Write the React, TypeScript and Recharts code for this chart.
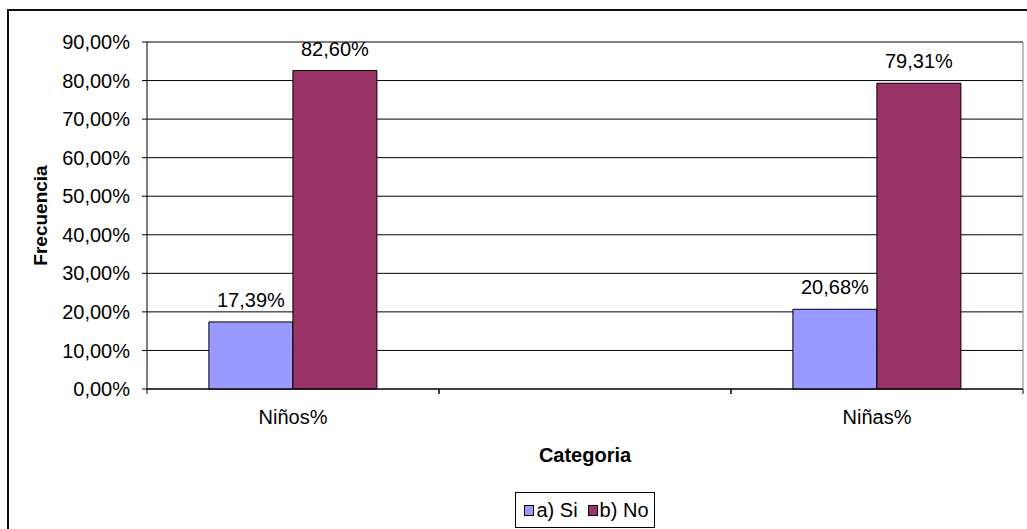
import React from 'react';
import { BarChart, Bar, XAxis, YAxis, CartesianGrid, Legend, LabelList } from 'recharts';

// Survey answers by group (percent)
const categories = ['Niños%', '', 'Niñas%'];
const siValues: (number | null)[] = [17.39, null, 20.68];
const noValues: (number | null)[] = [82.6, null, 79.31];
const yTicks = [0, 10, 20, 30, 40, 50, 60, 70, 80, 90];

const seriesNames = { si: 'a) Si', no: 'b) No' };
const colors = { si: '#9999FF', no: '#993366' };

const data = categories.map((cat, i) => ({ cat, si: siValues[i], no: noValues[i] }));

const FONT = '"Liberation Sans", Arial, sans-serif';
const FS = 20;

const pct = (v: any) =>
  v === null || v === undefined || v === '' ? '' : `${Number(v).toFixed(2).replace('.', ',')}%`;

function CategoryTick(props: any) {
  const { x, y, payload } = props;
  const half = payload && typeof payload.offset === 'number' ? payload.offset : 0;
  return (
    <g>
      <line x1={x - half} x2={x - half} y1={y} y2={y + 5} stroke="#000" />
      <line x1={x + half} x2={x + half} y1={y} y2={y + 5} stroke="#000" />
      <text
        x={x}
        y={y + 28}
        textAnchor="middle"
        dominantBaseline="central"
        fontSize={FS}
        fontFamily={FONT}
        fill="#000"
      >
        {payload.value}
      </text>
    </g>
  );
}

function YTitle(props: any) {
  const vb = props.viewBox || { x: 146, y: 42, width: 1, height: 347 };
  const cx = vb.x + vb.width - 107;
  const cy = vb.y + vb.height / 2;
  return (
    <text
      x={cx}
      y={cy}
      transform={`rotate(-90 ${cx} ${cy})`}
      textAnchor="middle"
      dominantBaseline="central"
      fontWeight="bold"
      fontSize={FS - 1}
      fontFamily={FONT}
      fill="#000"
    >
      Frecuencia
    </text>
  );
}

function XTitle(props: any) {
  const vb = props.viewBox || { x: 147, y: 389, width: 876 };
  return (
    <text
      x={vb.x + vb.width / 2}
      y={vb.y + 66}
      textAnchor="middle"
      dominantBaseline="central"
      fontWeight="bold"
      fontSize={FS}
      fontFamily={FONT}
      fill="#000"
    >
      Categoria
    </text>
  );
}

function LegendBox() {
  const item = (key: 'si' | 'no', last: boolean) => (
    <div style={{ display: 'flex', alignItems: 'center', marginRight: last ? 0 : 10 }}>
      <span
        style={{
          display: 'inline-block',
          width: 10,
          height: 11,
          background: colors[key],
          border: '1px solid #000',
          boxSizing: 'border-box',
          marginRight: 2,
        }}
      />
      <span>{seriesNames[key]}</span>
    </div>
  );
  return (
    <div style={{ display: 'flex', justifyContent: 'center' }}>
      <div
        style={{
          height: 36,
          boxSizing: 'border-box',
          border: '1px solid #000',
          display: 'flex',
          alignItems: 'center',
          padding: '0 5px 0 8px',
          fontSize: FS,
          fontFamily: FONT,
          color: '#000',
          background: '#fff',
        }}
      >
        {item('si', false)}
        {item('no', true)}
      </div>
    </div>
  );
}

export default function App() {
  return (
    <div
      style={{
        position: 'absolute',
        left: 0,
        top: 0,
        width: 1027,
        height: 529,
        overflow: 'hidden',
        background: '#fff',
        fontFamily: FONT,
      }}
    >
      <div
        style={{
          position: 'absolute',
          left: 7,
          top: 9,
          width: 1100,
          height: 600,
          border: '2px solid #111',
          boxSizing: 'border-box',
        }}
      />
      <div style={{ position: 'absolute', left: 0, top: 0 }}>
        <BarChart
          width={1027}
          height={529}
          data={data}
          margin={{ top: 41, right: 3, bottom: 1, left: 146 }}
          barCategoryGap="21.2%"
          barGap={0}
        >
          <CartesianGrid vertical={false} stroke="#000" />
          <XAxis
            dataKey="cat"
            height={103}
            interval={0}
            tickSize={0}
            tickMargin={0}
            tickLine={false}
            axisLine={{ stroke: '#000' }}
            tick={<CategoryTick />}
            label={{ value: 'Categoria', content: (p: any) => <XTitle {...p} /> }}
          />
          <XAxis
            xAxisId="top"
            dataKey="cat"
            orientation="top"
            height={1}
            tick={false}
            tickLine={false}
            axisLine={{ stroke: '#808080' }}
          />
          <YAxis
            width={1}
            domain={[0, 90]}
            ticks={yTicks}
            interval={0}
            tickSize={5}
            tickMargin={12}
            tickFormatter={pct}
            axisLine={{ stroke: '#000' }}
            tickLine={{ stroke: '#000' }}
            tick={{ fontSize: FS, fontFamily: FONT, fill: '#000' }}
            label={{ value: 'Frecuencia', content: (p: any) => <YTitle {...p} /> }}
          />
          <YAxis
            yAxisId="right"
            orientation="right"
            width={1}
            domain={[0, 90]}
            tick={false}
            tickLine={false}
            axisLine={{ stroke: '#808080' }}
          />
          <Legend verticalAlign="bottom" content={<LegendBox />} />
          <Bar dataKey="si" name={seriesNames.si} fill={colors.si} stroke="#000" strokeWidth={1} isAnimationActive={false}>
            <LabelList
              dataKey="si"
              position="top"
              offset={15}
              formatter={pct}
              style={{ fontSize: FS, fontFamily: FONT, fill: '#000' }}
            />
          </Bar>
          <Bar dataKey="no" name={seriesNames.no} fill={colors.no} stroke="#000" strokeWidth={1} isAnimationActive={false}>
            <LabelList
              dataKey="no"
              position="top"
              offset={15}
              formatter={pct}
              style={{ fontSize: FS, fontFamily: FONT, fill: '#000' }}
            />
          </Bar>
        </BarChart>
      </div>
    </div>
  );
}
